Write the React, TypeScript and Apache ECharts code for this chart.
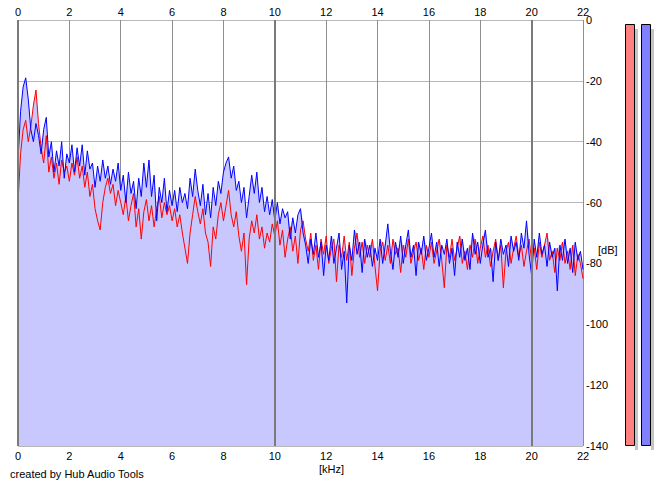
import React, { useEffect, useRef } from "react";
import * as echarts from "echarts";

const freqStep = 0.1; // kHz between samples
const xTicks = [0, 2, 4, 6, 8, 10, 12, 14, 16, 18, 20, 22];
const yTicks = [0, -20, -40, -60, -80, -100, -120, -140];
const strongLines = [0, 10, 20];

const blueDb = [
  -46, -30, -22, -19, -26, -36, -40, -34, -38, -44,
  -36, -32, -45, -40, -50, -43, -48, -40, -52, -44,
  -47, -41, -50, -42, -48, -41, -51, -43, -49, -47,
  -55, -48, -53, -46, -52, -48, -54, -49, -53, -47,
  -56, -51, -60, -50, -57, -53, -62, -52, -58, -47,
  -55, -46, -58, -51, -66, -55, -60, -52, -63, -56,
  -61, -56, -63, -55, -60, -57, -62, -52, -58, -49,
  -56, -61, -54, -64, -57, -65, -55, -61, -53, -57,
  -50, -47, -45, -52, -48, -56, -53, -60, -55, -65,
  -58, -51, -57, -50, -60, -55, -63, -58, -64, -59,
  -66, -60, -67, -62, -65, -63, -72, -65, -70, -64,
  -62, -70, -74, -80, -72, -77, -70, -78, -73, -84,
  -74, -79, -71, -80, -75, -70, -82, -76, -93, -74,
  -79, -69, -77, -73, -83, -72, -78, -74, -81, -75,
  -79, -72, -80, -74, -67, -76, -82, -73, -78, -71,
  -80, -74, -69, -78, -74, -84, -73, -77, -71, -79,
  -75, -70, -78, -73, -81, -74, -77, -72, -80, -75,
  -84, -73, -78, -72, -79, -75, -82, -70, -77, -73,
  -80, -74, -69, -78, -75, -86, -73, -79, -72, -77,
  -74, -81, -71, -76, -73, -79, -70, -75, -66, -77,
  -84, -72, -78, -70, -77, -74, -81, -73, -78, -75,
  -89, -74, -79, -72, -80, -75, -83, -73, -79, -76,
  -82,
];

const redDb = [
  -60, -44, -36, -33, -40, -35, -28, -23, -34, -42,
  -47, -38, -50, -45, -52, -47, -54, -46, -50, -48,
  -53, -47, -51, -45, -52, -48, -55, -50, -58, -54,
  -62, -66, -69, -60, -55, -52, -57, -54, -61, -56,
  -60, -64, -58, -66, -61, -57, -68, -62, -72, -63,
  -59, -66, -61, -68, -62, -58, -65, -60, -64, -61,
  -66, -62, -68, -64, -70, -75, -80, -70, -64, -58,
  -63, -67, -62, -70, -73, -81, -68, -72, -64, -60,
  -66, -61, -56, -64, -68, -63, -71, -76, -70, -87,
  -72, -66, -70, -64, -72, -68, -75, -70, -73, -67,
  -71, -66, -74, -69, -78, -72, -68, -76, -71, -80,
  -69, -66, -72, -76, -70, -79, -74, -82, -72, -77,
  -71, -80, -75, -72, -86, -74, -78, -71, -79, -73,
  -84, -75, -70, -78, -73, -80, -74, -78, -72, -81,
  -89, -76, -73, -79, -74, -80, -72, -77, -75, -83,
  -74, -78, -72, -80, -76, -73, -79, -75, -82, -74,
  -78, -73, -80, -76, -72, -79, -88, -74, -78, -72,
  -79, -75, -71, -80, -76, -82, -74, -78, -72, -80,
  -75, -71, -78, -74, -81, -76, -72, -79, -74, -88,
  -76, -73, -80, -75, -71, -78, -74, -81, -76, -72,
  -79, -75, -82, -73, -78, -74, -70, -79, -76, -83,
  -75, -79, -73, -80, -76, -82, -74, -84, -77, -80,
  -85,
];

const font = '"Liberation Sans", Arial, sans-serif';

export default function App() {
  const ref = useRef<HTMLDivElement>(null);

  useEffect(() => {
    if (!ref.current) return;
    const chart = echarts.init(ref.current, undefined, { renderer: "svg" });

    const freq = (i: number) => Math.round(i * freqStep * 10) / 10;
    const blueData = blueDb.map((v, i) => [freq(i), v]);
    const redData = redDb.map((v, i) => [freq(i), v]);
    const envData = blueDb.map((v, i) => [freq(i), Math.max(v, redDb[i])]);

    const axisLabel = { color: "#000", fontSize: 11, fontFamily: font };

    chart.setOption({
      animation: false,
      backgroundColor: "#fff",
      grid: { left: 18, top: 20, width: 565, height: 426 },
      xAxis: [
        {
          type: "value",
          position: "bottom",
          min: xTicks[0],
          max: xTicks[xTicks.length - 1],
          interval: 2,
          axisLine: { show: false },
          axisTick: { show: false },
          axisLabel: { ...axisLabel, margin: 4 },
          splitLine: { show: true, lineStyle: { color: "#8e8e8e", width: 1 } },
        },
        {
          type: "value",
          position: "top",
          min: xTicks[0],
          max: xTicks[xTicks.length - 1],
          interval: 2,
          axisLine: { show: false },
          axisTick: { show: false },
          axisLabel: { ...axisLabel, margin: 3 },
          splitLine: { show: false },
        },
      ],
      yAxis: {
        type: "value",
        position: "right",
        min: yTicks[yTicks.length - 1],
        max: yTicks[0],
        interval: 20,
        axisLine: { show: false },
        axisTick: { show: false },
        axisLabel: { ...axisLabel, margin: 3 },
        splitLine: { show: true, lineStyle: { color: "#b8b8b8", width: 1 } },
      },
      series: [
        {
          type: "line",
          data: envData,
          showSymbol: false,
          symbol: "none",
          lineStyle: { width: 0, opacity: 0 },
          areaStyle: { color: "#c8c8ff", opacity: 1, origin: "start" },
          silent: true,
          z: 1,
          markLine: {
            silent: true,
            symbol: "none",
            label: { show: false },
            lineStyle: { color: "#7a7a7a", width: 2, type: "solid" },
            data: strongLines.map((v) => ({ xAxis: v })),
          },
        },
        {
          type: "line",
          data: redData,
          showSymbol: false,
          symbol: "none",
          lineStyle: { color: "#ff0000", width: 1 },
          z: 3,
        },
        {
          type: "line",
          data: blueData,
          showSymbol: false,
          symbol: "none",
          lineStyle: { color: "#0000ff", width: 1 },
          z: 4,
        },
      ],
      graphic: [
        { type: "text", left: 598, top: 244, style: { text: "[dB]", font: `11px ${font}`, fill: "#000" } },
        { type: "text", left: 319, top: 463, style: { text: "[kHz]", font: `11px ${font}`, fill: "#000" } },
        { type: "text", left: 10, top: 468, style: { text: "created by Hub Audio Tools", font: `11px ${font}`, fill: "#000" } },
        { type: "rect", shape: { x: 635, y: 29, width: 3, height: 421 }, style: { fill: "#c4c4c4" } },
        { type: "rect", shape: { x: 625.5, y: 24.5, width: 9, height: 421 }, style: { fill: "#ff8080", stroke: "#000", lineWidth: 1 } },
        { type: "rect", shape: { x: 651, y: 29, width: 3, height: 421 }, style: { fill: "#c4c4c4" } },
        { type: "rect", shape: { x: 641.5, y: 24.5, width: 9, height: 421 }, style: { fill: "#8080ff", stroke: "#000", lineWidth: 1 } },
      ],
    });

    return () => chart.dispose();
  }, []);

  return (
    <div
      ref={ref}
      style={{ position: "fixed", left: 0, top: 0, width: 665, height: 487, background: "#fff" }}
    />
  );
}
